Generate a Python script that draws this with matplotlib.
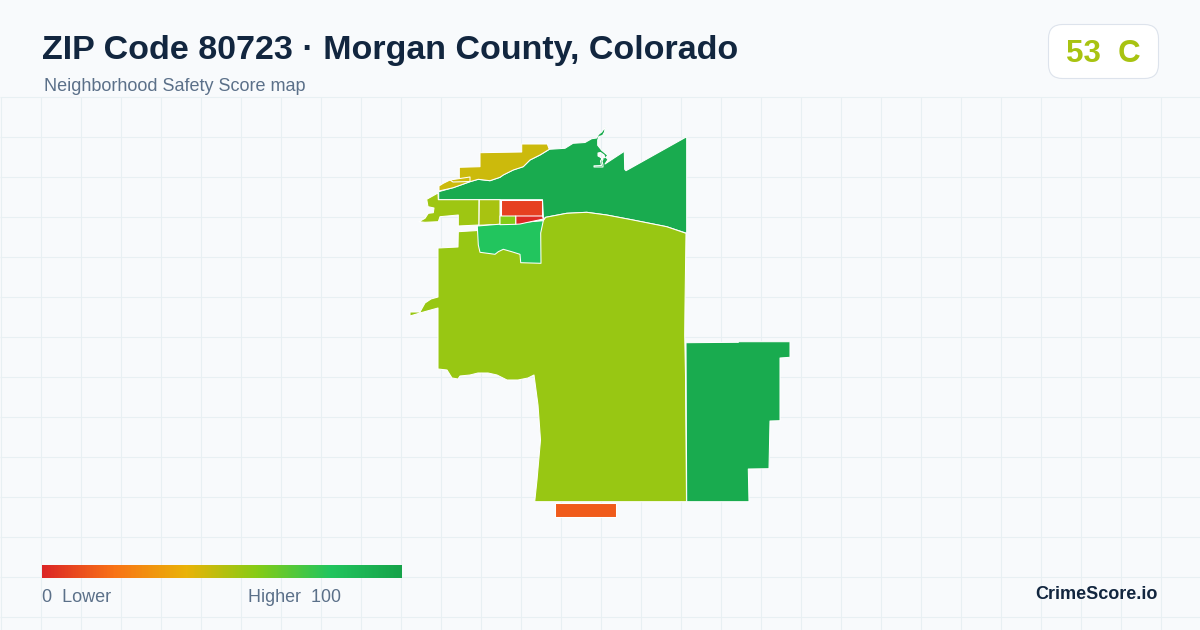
import numpy as np
import matplotlib
matplotlib.use("Agg")
import matplotlib.pyplot as plt
from matplotlib.colors import LinearSegmentedColormap
from matplotlib.patches import FancyBboxPatch, PathPatch
from matplotlib.path import Path

# ---- data -----------------------------------------------------------------
title = "ZIP Code 80723 · Morgan County, Colorado"
subtitle = "Neighborhood Safety Score map"
badge_score = 53
badge_grade = "C"
brand = "CrimeScore.io"
legend_low = "0  Lower"
legend_high = "Higher  100"

ramp_stops = [0.0, 0.2, 0.4, 0.6, 0.8, 1.0]
ramp_colors = ["#dc2626", "#f97316", "#eab308", "#84cc16", "#22c55e", "#16a34a"]

# Tract outlines (map projected to canvas pixels) and scores.
north_score = 95
north_shape = [(438.7,191.7),(453,187.7),(470,181.7),(478,179.3),(490,180.7),(500,177.3),(503,175),
    (513,170),(523,166.7),(530,160),(540,155),(549.3,149.3),(565,148.3),(573,143.3),(585,142.5),
    (591.7,138.7),(596.7,138),(598.5,134.5),(601.7,132),(605.3,127),(604.5,132),(602.5,135.5),(599,136.5),
    (597.7,140),(597.7,145.3),(601.7,150.3),(607.7,155.3),(606,157.5),(608,159.5),(605,164),
    (624.3,151.3),(624.7,169.3),(626,170.7),(686.7,136.7),(686.7,233.3),(666.7,226.7),(633,220),(606.7,215),
    (586.7,212.3),(566.7,213.3),(545.7,217.3),(543.5,219),(542.5,199.7),(438.7,199.7)]
north_hole = [(598,153),(600.5,152.5),(604,155),(605,157.5),(602,158.5),(600.5,161),(601.5,165.5),
    (594,165.8),(594,167),(603,167),(603,165),(602,161),(603,159.5),(600,157),(598,156)]
yellow_score = 46
yellow_shape = [(439,191),(439,186),(443.3,183.3),(450,180),(459.3,178.3),(459.3,167.3),(480,166.7),
    (480,152.7),(521.7,152),(521.7,144),(547.3,144),(549.3,149.3),(540,155),(530,160),(523.3,166.7),
    (513.3,170),(503.3,175),(500,177.3),(490,180.7),(478.3,179.3),(470,181.7),(453.3,187.7)]
sliver_score = 46
sliver_shape = [(450,180),(470,177),(470,181.5),(453,182)]
west_score = 55
west_shape = [(438,193),(426.7,199.3),(428,206.7),(434,208),(433.3,212.7),(428.3,213.3),(425,218.3),
    (419,221.7),(425,222.3),(438.3,221.7),(440,216.7),(458.3,215),(458.3,226),(479,225),(479,199.7),(438.3,199.7)]
olive_score = 53
olive_shape = [(479.3,199.7),(500,199.7),(500,224.7),(479,225.2)]
main_score = 56
main_shape = [(438,248),(458,247),(458.3,231.7),(478,230.5),(478,226),(543,221),(545.7,217.3),(566.7,213.3),
    (586.7,212.3),(606.7,215),(633,220),(666.7,226.7),(686,233.3),(685,305),(684.7,335),(685.5,375),
    (686.5,501.7),(534.7,501.7),(537,480),(540.5,440),(538,405),(534,375),(528,378),(518,380),(507,380),
    (497,375),(488,373),(478,373),(470,375),(460,376),(458,379),(452,378),(447,370),(438,369),(438,308),
    (420,313),(410,316),(410,312),(420,312),(425,303),(431,299),(438,297)]
patch_score = 80
patch_shape = [(477.3,226),(543.3,220.7),(540.7,233),(541,263.3),(520.7,262.7),(520,254.3),(511.7,251.7),
    (503.3,249.3),(498.3,251.7),(495,254.3),(480,252.3),(478.3,245)]
orange_red_score = 7
orange_red_shape = [(500.7,199.7),(542.3,199.7),(542.3,215.8),(500.7,215.8)]
red_score = 1
red_shape = [(515.7,216),(542.3,216),(543.5,219),(520,224),(515.7,224.3)]
small_score = 60
small_shape = [(500,216),(515.7,216),(515.7,224.3),(500,224.7)]
east_score = 95
east_shape = [(686,342.7),(738.3,342.3),(738.3,341.7),(790,341.7),(790,357.3),(780,358),(780,420.7),(770,421),
    (769,468.7),(748.3,469),(749,501.7),(686.7,501.7)]
south_score = 14
south_shape = [(555,502.7),(616,502.7),(616,517),(555,517)]

tracts = [
    ([north_shape, north_hole], north_score), ([yellow_shape], yellow_score), ([sliver_shape], sliver_score),
    ([west_shape], west_score), ([olive_shape], olive_score), ([main_shape], main_score),
    ([patch_shape], patch_score), ([orange_red_shape], orange_red_score), ([red_shape], red_score),
    ([small_shape], small_score), ([east_shape], east_score), ([south_shape], south_score),
]

# ---- drawing --------------------------------------------------------------
plt.rcParams["font.family"] = ["Liberation Sans", "DejaVu Sans"]
BG = "#f8fafc"
TEXT = "#5b7089"
fig = plt.figure(figsize=(12, 6.3), dpi=100, facecolor=BG)
ax = fig.add_axes([0, 0, 1, 1])
ax.set_xlim(0, 1200)
ax.set_ylim(630, 0)
ax.axis("off")

ax.vlines(np.arange(0.7, 1200, 40), 97, 630, color="#e8f0f3", lw=0.75, zorder=1)
ax.hlines(np.arange(96.7, 630, 40), 0, 1200, color="#e8f0f3", lw=0.75, zorder=1)

cmap = LinearSegmentedColormap.from_list("score", list(zip(ramp_stops, ramp_colors)))


def ring_path(rings):
    subpaths = []
    for ring in rings:
        pts = list(ring) + [ring[0]]
        codes = [Path.MOVETO] + [Path.LINETO] * (len(ring) - 1) + [Path.CLOSEPOLY]
        # the fill rule needs holes wound the other way round
        if subpaths:
            pts = pts[::-1]
        subpaths.append(Path(pts, codes))
    return Path.make_compound_path(*subpaths)


for rings, score in tracts:
    ax.add_patch(PathPatch(ring_path(rings), facecolor=cmap(score / 100),
                           edgecolor="white", lw=0.75, joinstyle="round", zorder=3))

ax.text(42, 59, title, fontsize=24.5, fontweight="bold", color="#12263f", ha="left", va="baseline", zorder=5)
ax.text(44, 91, subtitle, fontsize=12.95, color=TEXT, ha="left", va="baseline", zorder=5)

ax.add_patch(FancyBboxPatch((1048.5, 24.5), 110, 54, boxstyle="round,pad=0,rounding_size=14",
                            facecolor="white", edgecolor="#dde3ec", lw=0.8, zorder=4))
ax.text(1103, 62, f"{badge_score}  {badge_grade}", fontsize=22.5, fontweight="bold", color=cmap(0.53),
        ha="center", va="baseline", zorder=5)

grad = np.linspace(0, 1, 360).reshape(1, -1)
ax.imshow(grad, cmap=cmap, extent=(42, 402, 578, 565), aspect="auto", zorder=4, vmin=0, vmax=1)
ax.set_xlim(0, 1200)
ax.set_ylim(630, 0)
ax.text(42, 602, legend_low, fontsize=12.95, color=TEXT, ha="left", va="baseline", zorder=5)
ax.text(341, 602, legend_high, fontsize=12.85, color=TEXT, ha="right", va="baseline", zorder=5)
ax.text(1158, 599, brand, fontsize=13.0, fontweight="bold", color="#12263f", ha="right", va="baseline", zorder=5)

fig.savefig("out.png", dpi=100, facecolor=BG)
